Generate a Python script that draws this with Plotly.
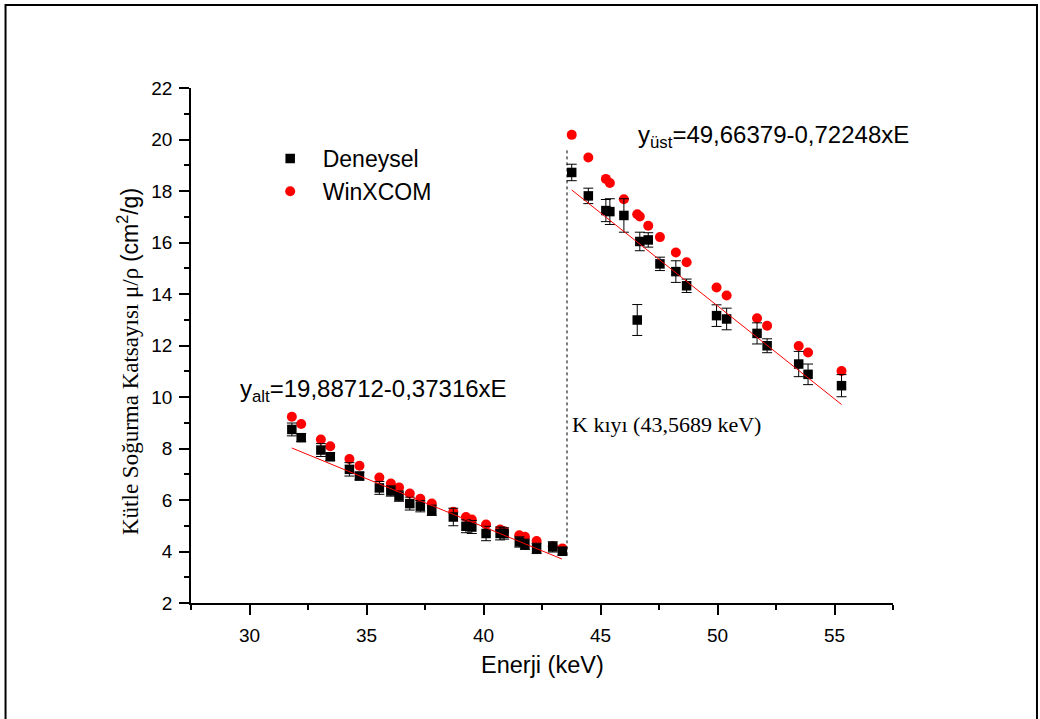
import plotly.graph_objects as go

# ---- data ----
energy_low = [31.81, 32.21, 33.05, 33.45, 34.27, 34.70, 35.55, 36.04, 36.39, 36.85, 37.30,
              37.79, 38.71, 39.25, 39.50, 40.11, 40.71, 40.88, 41.53, 41.77, 42.27, 42.96, 43.37]
winxcom_low = [9.23, 8.95, 8.35, 8.09, 7.59, 7.33, 6.87, 6.64, 6.49, 6.25, 6.05,
               5.86, 5.54, 5.34, 5.24, 5.05, 4.85, 4.79, 4.63, 4.57, 4.41, 4.20, 4.12]
deneysel_low = [8.74, 8.42, 7.94, 7.68, 7.19, 6.93, 6.47, 6.35, 6.15, 5.86, 5.76,
                5.60, 5.34, 4.98, 4.95, 4.70, 4.70, 4.70, 4.37, 4.28, 4.12, 4.18, 4.01]
err_low = [0.25, 0.15, 0.25, 0.15, 0.26, 0.15, 0.25, 0.20, 0.20, 0.25, 0.22,
           0.20, 0.34, 0.25, 0.25, 0.28, 0.25, 0.22, 0.20, 0.20, 0.20, 0.20, 0.15]

energy_up = [43.77, 44.48, 45.23, 45.40, 46.00, 46.57, 46.68, 47.04, 47.54,
             48.22, 48.68, 49.96, 50.39, 51.69, 52.12, 53.47, 53.87, 55.30]
winxcom_up = [20.18, 19.30, 18.47, 18.31, 17.68, 17.10, 17.01, 16.65, 16.21,
              15.61, 15.23, 14.25, 13.94, 13.06, 12.77, 11.98, 11.73, 11.01]
deneysel_up = [18.72, 17.81, 17.24, 17.20, 17.05, 12.99, 16.04, 16.10, 15.17,
               14.87, 14.32, 13.16, 13.03, 12.47, 11.99, 11.28, 10.88, 10.44]
err_up = [0.32, 0.30, 0.43, 0.50, 0.65, 0.60, 0.36, 0.28, 0.26,
          0.42, 0.26, 0.42, 0.42, 0.41, 0.27, 0.49, 0.40, 0.43]

fit_low_x = [31.81, 43.35]
fit_low_y = [8.02, 3.71]
fit_up_x = [43.77, 55.30]
fit_up_y = [18.04, 9.71]

k_edge = 43.5689
k_edge_y = [3.85, 19.6]

x_ticks = [30, 35, 40, 45, 50, 55]
y_ticks = [2, 4, 6, 8, 10, 12, 14, 16, 18, 20, 22]

ARIAL = "Arial, Liberation Sans, sans-serif"
TIMES = "Times New Roman, Liberation Serif, serif"

fig = go.Figure()

fig.add_trace(go.Scatter(x=energy_low + energy_up, y=winxcom_low + winxcom_up,
                         mode="markers", name="WinXCOM", legendrank=2,
                         marker=dict(symbol="circle", size=10, color="#ff0000")))
fig.add_trace(go.Scatter(x=energy_low + energy_up, y=deneysel_low + deneysel_up,
                         mode="markers", name="Deneysel", legendrank=1,
                         marker=dict(symbol="square", size=9.5, color="black"),
                         error_y=dict(type="data", array=err_low + err_up, color="black",
                                      thickness=1, width=5)))
fig.add_trace(go.Scatter(x=fit_low_x, y=fit_low_y, mode="lines", showlegend=False,
                         line=dict(color="#ff0000", width=1)))
fig.add_trace(go.Scatter(x=fit_up_x, y=fit_up_y, mode="lines", showlegend=False,
                         line=dict(color="#ff0000", width=1)))
fig.add_trace(go.Scatter(x=[k_edge, k_edge], y=k_edge_y, mode="lines", showlegend=False,
                         line=dict(color="black", width=1, dash="dot")))

axis_common = dict(showline=True, linecolor="black", linewidth=1.5, ticks="outside",
                   ticklen=10, tickwidth=1.5, tickcolor="black", showgrid=False,
                   zeroline=False, tickfont=dict(family=ARIAL, size=19, color="black"))

fig.update_xaxes(range=[27.5, 57.5], tickvals=x_ticks, ticklabelstandoff=4,
                 minor=dict(ticks="outside", ticklen=5, tickwidth=1.5, tickcolor="black",
                            dtick=2.5, tick0=27.5),
                 **axis_common)
fig.update_yaxes(range=[2, 22], tickvals=y_ticks, ticklabelstandoff=3,
                 minor=dict(ticks="outside", ticklen=5, tickwidth=1.5, tickcolor="black",
                            dtick=1, tick0=0),
                 **axis_common)

fig.add_annotation(xref="paper", yref="paper", x=0.5, y=-0.12, text="Enerji (keV)",
                   showarrow=False, xanchor="center", yanchor="middle",
                   font=dict(family=ARIAL, size=23.5, color="black"))
fig.add_annotation(xref="paper", yref="paper", x=-0.0897, y=0.468,
                   text=("<span style=\"font-family:'Times New Roman','Liberation Serif',serif\">"
                         "Kütle Soğurma Katsayısı μ/ρ </span>(cm<sup>2</sup>/g)"),
                   showarrow=False, textangle=-90, xanchor="center", yanchor="middle",
                   font=dict(family=ARIAL, size=23, color="black"))

fig.add_annotation(x=29.52, y=10.27, text="y<sub>alt</sub>=19,88712-0,37316xE",
                   showarrow=False, xanchor="left", yanchor="middle",
                   font=dict(family=ARIAL, size=24, color="black"))
fig.add_annotation(x=46.51, y=20.1, text="y<sub>üst</sub>=49,66379-0,72248xE",
                   showarrow=False, xanchor="left", yanchor="middle",
                   font=dict(family=ARIAL, size=24, color="black"))
fig.add_annotation(x=43.7, y=8.95, text="K kıyı (43,5689 keV)",
                   showarrow=False, xanchor="left", yanchor="middle",
                   font=dict(family=TIMES, size=22, color="black"))

fig.add_shape(type="rect", xref="paper", yref="paper",
              x0=-0.2642, x1=1.2051, y0=-0.24, y1=1.1612,
              line=dict(color="black", width=2), fillcolor="rgba(0,0,0,0)", layer="above")

fig.update_layout(
    width=1040, height=719,
    margin=dict(l=191, r=147, t=88, b=116),
    paper_bgcolor="white", plot_bgcolor="white",
    showlegend=True,
    legend=dict(x=0.095, y=0.905, xanchor="left", yanchor="top",
                bgcolor="rgba(0,0,0,0)", font=dict(family=ARIAL, size=23, color="black"),
                itemwidth=55),
)

fig.write_html("out.html")
